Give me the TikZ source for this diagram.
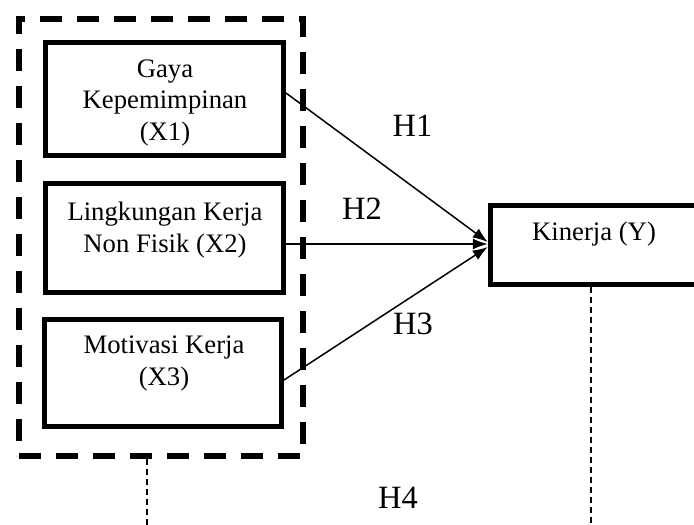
\documentclass[tikz,border=0pt]{standalone}
\usepackage{fontspec}
\setmainfont{Liberation Serif}
\usetikzlibrary{arrows.meta}
\begin{document}
\begin{tikzpicture}[x=1pt,y=-1pt,
  varbox/.style={draw, line width=5pt, inner sep=0pt, rectangle},
  boxtext/.style={align=center, inner sep=0pt, font=\fontsize{26.7}{31.5}\selectfont},
  hlabel/.style={inner sep=0pt, anchor=base, font=\fontsize{32.5}{36}\selectfont},
  grpbox/.style={draw, line width=6pt, dash pattern=on 22pt off 15pt, inner sep=0pt, rectangle},
  path/.style={line width=1.5pt, -{Latex[length=15pt,width=11pt]}},
  thindash/.style={line width=1.5pt, dash pattern=on 6pt off 4pt}]
\useasboundingbox (0,0) rectangle (694,525);
\clip (0,0) rectangle (694,525);
% group box
\node (grp) [grpbox, minimum width=284pt, minimum height=437.5pt] at (160.5,237.25) {};
% variable boxes
\node (x1) [varbox, minimum width=238pt, minimum height=113pt] at (164.5,99) {};
\node (x2) [varbox, minimum width=238pt, minimum height=109pt] at (164.5,238) {};
\node (x3) [varbox, minimum width=237pt, minimum height=107pt] at (163,373) {};
\node (y) [varbox, minimum width=229.5pt, minimum height=79pt] at (605,245) {};
% texts
\node (t1) [boxtext] at (165,103) {Gaya\\Kepemimpinan\\(X1)};
\node (t2) [boxtext] at (165,230) {Lingkungan Kerja\\Non Fisik (X2)};
\node (t3) [boxtext] at (164,363.7) {Motivasi Kerja\\(X3)};
\node (ty) [boxtext, anchor=base] at (594,240) {Kinerja (Y)};
% arrows
\draw[path] ([yshift=6pt]x1.east) -- ([yshift=3pt]y.west);
\draw[path] ([yshift=-6pt]x2.east) -- ([yshift=1pt]y.west);
\draw[path] ([yshift=-7pt]x3.east) -- ([yshift=-2pt]y.west);
% labels
\node (h1) [hlabel] at (412.5,136) {H1};
\node (h2) [hlabel] at (362,219) {H2};
\node (h3) [hlabel] at (413,334) {H3};
\node (h4) [hlabel] at (398,508) {H4};
% H4 dashed lines
\coordinate (l1) at (147,530);
\coordinate (r1) at (591,530);
\draw[thindash] (grp.south -| l1) -- (l1);
\draw[thindash] (y.south -| r1) -- (r1);
\end{tikzpicture}
\end{document}
